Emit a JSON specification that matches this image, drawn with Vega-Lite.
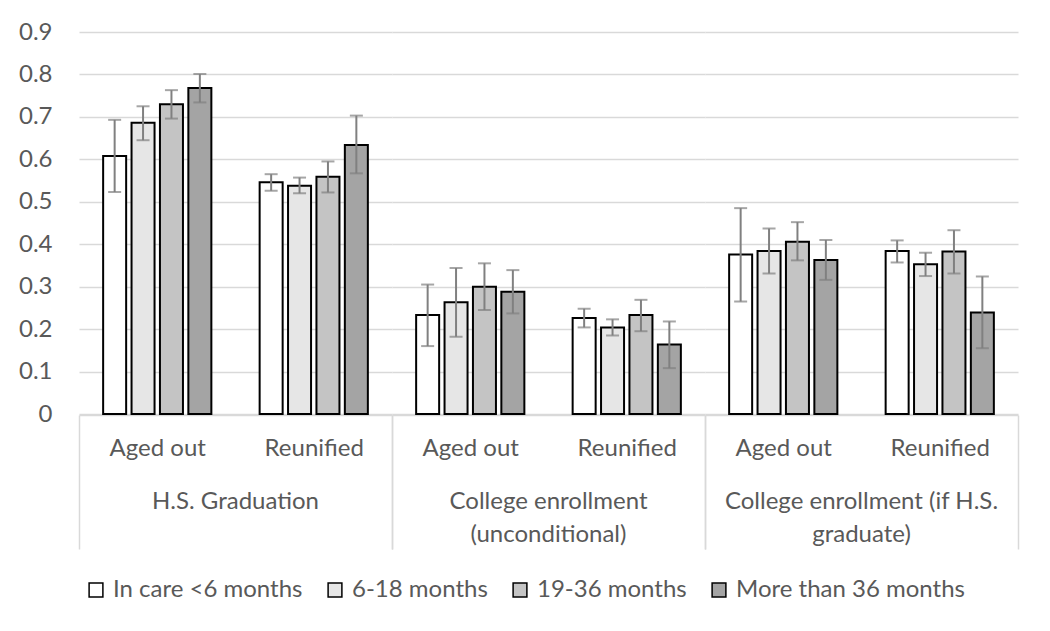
{
  "$schema": "https://vega.github.io/schema/vega-lite/v6.json",
  "padding": {"left": 18, "top": 20, "right": 30, "bottom": 5},
  "background": "white",
  "data": {
    "values": [
      {"outcome": "H.S. Graduation", "group": "Aged out", "dur": "In care <6 months", "v": 0.608, "lo": 0.523, "hi": 0.693},
      {"outcome": "H.S. Graduation", "group": "Aged out", "dur": "6-18 months", "v": 0.686, "lo": 0.645, "hi": 0.725},
      {"outcome": "H.S. Graduation", "group": "Aged out", "dur": "19-36 months", "v": 0.730, "lo": 0.696, "hi": 0.763},
      {"outcome": "H.S. Graduation", "group": "Aged out", "dur": "More than 36 months", "v": 0.768, "lo": 0.734, "hi": 0.801},
      {"outcome": "H.S. Graduation", "group": "Reunified", "dur": "In care <6 months", "v": 0.546, "lo": 0.526, "hi": 0.565},
      {"outcome": "H.S. Graduation", "group": "Reunified", "dur": "6-18 months", "v": 0.538, "lo": 0.520, "hi": 0.557},
      {"outcome": "H.S. Graduation", "group": "Reunified", "dur": "19-36 months", "v": 0.559, "lo": 0.522, "hi": 0.595},
      {"outcome": "H.S. Graduation", "group": "Reunified", "dur": "More than 36 months", "v": 0.634, "lo": 0.567, "hi": 0.703},
      {"outcome": "College enrollment (unconditional)", "group": "Aged out", "dur": "In care <6 months", "v": 0.233, "lo": 0.160, "hi": 0.305},
      {"outcome": "College enrollment (unconditional)", "group": "Aged out", "dur": "6-18 months", "v": 0.263, "lo": 0.182, "hi": 0.344},
      {"outcome": "College enrollment (unconditional)", "group": "Aged out", "dur": "19-36 months", "v": 0.300, "lo": 0.245, "hi": 0.355},
      {"outcome": "College enrollment (unconditional)", "group": "Aged out", "dur": "More than 36 months", "v": 0.288, "lo": 0.237, "hi": 0.339},
      {"outcome": "College enrollment (unconditional)", "group": "Reunified", "dur": "In care <6 months", "v": 0.226, "lo": 0.204, "hi": 0.248},
      {"outcome": "College enrollment (unconditional)", "group": "Reunified", "dur": "6-18 months", "v": 0.204, "lo": 0.185, "hi": 0.223},
      {"outcome": "College enrollment (unconditional)", "group": "Reunified", "dur": "19-36 months", "v": 0.233, "lo": 0.195, "hi": 0.269},
      {"outcome": "College enrollment (unconditional)", "group": "Reunified", "dur": "More than 36 months", "v": 0.164, "lo": 0.108, "hi": 0.218},
      {"outcome": "College enrollment (if H.S. graduate)", "group": "Aged out", "dur": "In care <6 months", "v": 0.376, "lo": 0.265, "hi": 0.485},
      {"outcome": "College enrollment (if H.S. graduate)", "group": "Aged out", "dur": "6-18 months", "v": 0.384, "lo": 0.331, "hi": 0.437},
      {"outcome": "College enrollment (if H.S. graduate)", "group": "Aged out", "dur": "19-36 months", "v": 0.406, "lo": 0.362, "hi": 0.452},
      {"outcome": "College enrollment (if H.S. graduate)", "group": "Aged out", "dur": "More than 36 months", "v": 0.363, "lo": 0.316, "hi": 0.410},
      {"outcome": "College enrollment (if H.S. graduate)", "group": "Reunified", "dur": "In care <6 months", "v": 0.384, "lo": 0.357, "hi": 0.409},
      {"outcome": "College enrollment (if H.S. graduate)", "group": "Reunified", "dur": "6-18 months", "v": 0.353, "lo": 0.325, "hi": 0.380},
      {"outcome": "College enrollment (if H.S. graduate)", "group": "Reunified", "dur": "19-36 months", "v": 0.383, "lo": 0.331, "hi": 0.433},
      {"outcome": "College enrollment (if H.S. graduate)", "group": "Reunified", "dur": "More than 36 months", "v": 0.239, "lo": 0.155, "hi": 0.324}
    ]
  },
  "facet": {
    "column": {
      "field": "outcome",
      "type": "nominal",
      "sort": ["H.S. Graduation", "College enrollment (unconditional)", "College enrollment (if H.S. graduate)"],
      "title": null,
      "header": {
        "labelOrient": "bottom",
        "labelFont": "Lato",
        "labelFontSize": 24,
        "labelColor": "#595959",
        "labelPadding": -60,
        "labelLineHeight": 33,
        "labelExpr": "datum.value == 'College enrollment (unconditional)' ? ['College enrollment', '(unconditional)'] : datum.value == 'College enrollment (if H.S. graduate)' ? ['College enrollment (if H.S.', 'graduate)'] : datum.value"
      }
    }
  },
  "spacing": 0,
  "spec": {
    "width": 313,
    "height": 382,
    "encoding": {
      "x": {
        "field": "group",
        "type": "nominal",
        "sort": ["Aged out", "Reunified"],
        "scale": {"paddingInner": 0, "paddingOuter": 0},
        "axis": {
          "title": null,
          "labelAngle": 0,
          "tickBand": "extent",
          "tickSize": 134,
          "tickWidth": 1.5,
          "tickColor": {"condition": {"test": "datum.value === 'Aged out'", "value": "transparent"}, "value": "#d9d9d9"},
          "domainColor": "#d9d9d9",
          "domainWidth": 1.5,
          "labelPadding": -113,
          "labelFont": "Lato",
          "labelFontSize": 24,
          "labelColor": "#595959"
        }
      },
      "xOffset": {
        "field": "dur",
        "type": "nominal",
        "sort": ["In care <6 months", "6-18 months", "19-36 months", "More than 36 months"],
        "scale": {"paddingInner": 0.19, "paddingOuter": 0.85}
      }
    },
    "layer": [
      {
        "mark": {"type": "bar", "stroke": "black", "strokeWidth": 2},
        "encoding": {
          "y": {
            "field": "v",
            "type": "quantitative",
            "scale": {"domain": [0, 0.9]},
            "axis": {
              "title": null,
              "values": [0, 0.1, 0.2, 0.3, 0.4, 0.5, 0.6, 0.7, 0.8, 0.9],
              "format": ".1~f",
              "domain": false,
              "ticks": false,
              "labelPadding": 27,
              "labelFont": "Lato",
              "labelFontSize": 24,
              "labelColor": "#595959",
              "gridColor": "#d9d9d9",
              "gridWidth": 1.5
            }
          },
          "color": {
            "field": "dur",
            "type": "nominal",
            "sort": ["In care <6 months", "6-18 months", "19-36 months", "More than 36 months"],
            "scale": {
              "domain": ["In care <6 months", "6-18 months", "19-36 months", "More than 36 months"],
              "range": ["#ffffff", "#e6e6e6", "#c4c4c4", "#a4a4a4"]
            },
            "legend": {
              "title": null,
              "orient": "bottom",
              "direction": "horizontal",
              "symbolType": "square",
              "symbolSize": 190,
              "symbolStrokeColor": "black",
              "symbolStrokeWidth": 1.5,
              "labelFont": "Lato",
              "labelFontSize": 24,
              "labelColor": "#595959",
              "labelLimit": 400,
              "labelOffset": 5,
              "columnPadding": 20,
              "padding": 5,
              "offset": 23
            }
          }
        }
      },
      {
        "mark": {"type": "rule", "color": "#808080", "strokeWidth": 2},
        "encoding": {
          "y": {"field": "lo", "type": "quantitative"},
          "y2": {"field": "hi"}
        }
      },
      {
        "mark": {"type": "tick", "color": "#808080", "thickness": 2, "size": 13},
        "encoding": {
          "y": {"field": "lo", "type": "quantitative"}
        }
      },
      {
        "mark": {"type": "tick", "color": "#808080", "thickness": 2, "size": 13},
        "encoding": {
          "y": {"field": "hi", "type": "quantitative"}
        }
      }
    ]
  },
  "config": {
    "font": "Lato",
    "view": {"stroke": null},
    "axis": {"titleFont": "Lato"}
  }
}
